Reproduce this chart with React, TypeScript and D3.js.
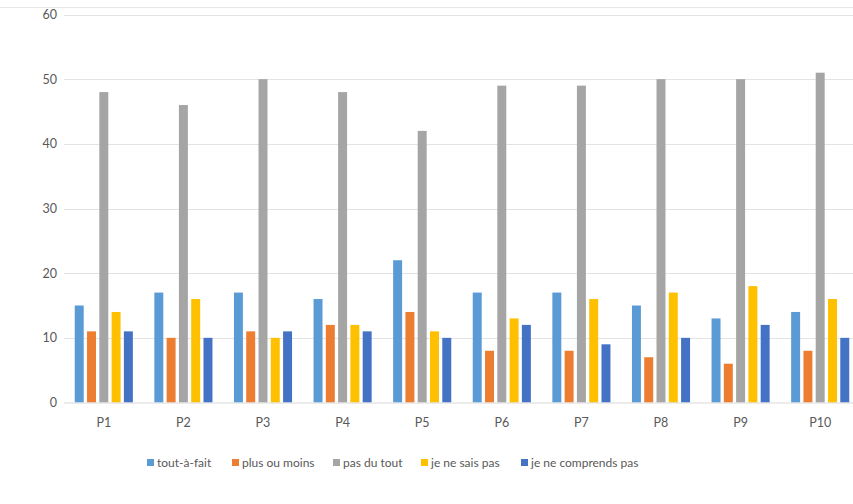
import React from "react";
import * as d3 from "d3";

const categories = ["P1", "P2", "P3", "P4", "P5", "P6", "P7", "P8", "P9", "P10"];
const seriesNames = ["tout-à-fait", "plus ou moins", "pas du tout", "je ne sais pas", "je ne comprends pas"];
const toutAFait = [15, 17, 17, 16, 22, 17, 17, 15, 13, 14];
const plusOuMoins = [11, 10, 11, 12, 14, 8, 8, 7, 6, 8];
const pasDuTout = [48, 46, 50, 48, 42, 49, 49, 50, 50, 51];
const jeNeSaisPas = [14, 16, 10, 12, 11, 13, 16, 17, 18, 16];
const jeNeComprendsPas = [11, 10, 11, 11, 10, 12, 9, 10, 12, 10];
const yTicks = [0, 10, 20, 30, 40, 50, 60];
const colors = ["#5B9BD5", "#ED7D31", "#A5A5A5", "#FFC000", "#4472C4"];

const seriesValues = [toutAFait, plusOuMoins, pasDuTout, jeNeSaisPas, jeNeComprendsPas];

export default function App() {
  const W = 853;
  const H = 504;
  const x = d3.scaleBand<string>().domain(categories).range([64, 860]).paddingInner(0.27).paddingOuter(0.135);
  const x1 = d3.scaleBand<number>().domain(d3.range(seriesNames.length)).range([0, x.bandwidth()]).paddingInner(0.27);
  const y = d3.scaleLinear().domain([0, 60]).range([402.5, 14.5]);
  const font = "Lato, 'Liberation Sans', sans-serif";
  const legendX = [147, 232, 333, 421, 521];

  return (
    <div style={{ position: "absolute", left: 0, top: 0 }}>
      <svg width={W} height={H} style={{ display: "block", background: "#ffffff" }}>
        <line x1={0} x2={W} y1={7.5} y2={7.5} stroke="#e6e6e6" strokeWidth={1} />
        {yTicks.map((t) => (
          <g key={t}>
            {t > 0 && (
              <line x1={64} x2={W} y1={Math.round(y(t)) + 0.5} y2={Math.round(y(t)) + 0.5} stroke="#e3e3e3" strokeWidth={1.2} />
            )}
            <text x={57} y={y(t) + 4.5} textAnchor="end" fontFamily={font} fontSize={12.5} fill="#595959">
              {t}
            </text>
          </g>
        ))}
        {categories.map((c, i) => (
          <g key={c} transform={`translate(${x(c)},0)`}>
            {seriesValues.map((vals, s) => (
              <rect
                key={s}
                x={x1(s)}
                y={y(vals[i])}
                width={x1.bandwidth()}
                height={y(0) - y(vals[i])}
                fill={colors[s]}
              />
            ))}
          </g>
        ))}
        <line x1={64} x2={W} y1={403} y2={403} stroke="#d9d9d9" strokeWidth={1.2} />
        {categories.map((c) => (
          <text
            key={c}
            x={(x(c) as number) + x.bandwidth() / 2}
            y={427}
            textAnchor="middle"
            fontFamily={font}
            fontSize={12.5}
            fill="#595959"
          >
            {c}
          </text>
        ))}
        {seriesNames.map((n, s) => (
          <g key={n} transform={`translate(${legendX[s]},0)`}>
            <rect x={0} y={459} width={7} height={7} fill={colors[s]} />
            <text x={10} y={467} fontFamily={font} fontSize={12} fill="#595959">
              {n}
            </text>
          </g>
        ))}
      </svg>
    </div>
  );
}
